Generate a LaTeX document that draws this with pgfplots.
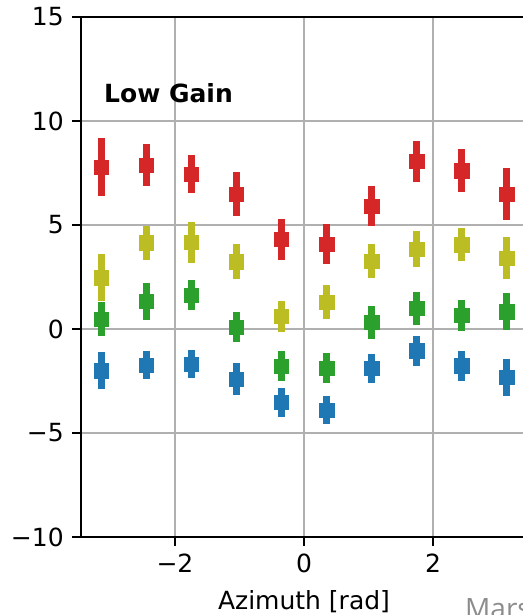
\documentclass[border=0pt]{standalone}
\usepackage{pgfplots}
\usepackage{pgfplotstable}
\pgfplotsset{compat=1.18}
\usepackage{fontspec}
\setmainfont{DejaVu Sans}
\newfontfamily\notefont{Open Sans}

\definecolor{tabred}{HTML}{D62728}
\definecolor{tabolive}{HTML}{BCBD22}
\definecolor{tabgreen}{HTML}{2CA02C}
\definecolor{tabblue}{HTML}{1F77B4}
\definecolor{gridgray}{HTML}{B0B0B0}

% azimuth [rad], offset, 1-sigma error
\pgfplotstableread{
x        y      e
-3.1416  7.79   1.40
-2.4435  7.88   1.00
-1.7453  7.45   0.92
-1.0472  6.49   1.04
-0.3491  4.31   0.99
 0.3491  4.09   0.95
 1.0472  5.91   0.98
 1.7453  8.06   1.00
 2.4435  7.61   1.03
 3.1416  6.49   1.25
}\redtab
\pgfplotstableread{
x        y      e
-3.1416  2.47   1.12
-2.4435  4.15   0.82
-1.7453  4.16   0.97
-1.0472  3.24   0.86
-0.3491  0.61   0.76
 0.3491  1.28   0.82
 1.0472  3.27   0.82
 1.7453  3.85   0.86
 2.4435  4.05   0.80
 3.1416  3.41   1.00
}\olivetab
\pgfplotstableread{
x        y      e
-3.1416  0.48   0.84
-2.4435  1.33   0.90
-1.7453  1.63   0.72
-1.0472  0.08   0.72
-0.3491 -1.78   0.74
 0.3491 -1.88   0.72
 1.0472  0.32   0.80
 1.7453  0.99   0.78
 2.4435  0.65   0.74
 3.1416  0.83   0.88
}\greentab
\pgfplotstableread{
x        y      e
-3.1416 -2.00   0.88
-2.4435 -1.73   0.66
-1.7453 -1.68   0.66
-1.0472 -2.40   0.75
-0.3491 -3.53   0.68
 0.3491 -3.89   0.68
 1.0472 -1.89   0.70
 1.7453 -1.04   0.72
 2.4435 -1.76   0.72
 3.1416 -2.33   0.91
}\bluetab

\pgfplotsset{
  gainpts/.style={
    only marks, color=#1, mark=square*,
    mark size=7.2bp,
    mark options={fill=#1, draw=none},
    error bars/.cd,
      y dir=both, y explicit,
      error mark=none,
      error bar style={color=#1, line width=7bp},
  },
}

\begin{document}
\fontsize{25bp}{30bp}\selectfont
\begin{tikzpicture}
\useasboundingbox (-81bp,-78bp) rectangle (442bp,537bp);
\clip (-81bp,-78bp) rectangle (442bp,537bp);
\begin{axis}[
  at={(0,0)}, anchor=south west,
  scale only axis, width=446bp, height=520bp,
  xmin=-3.456, xmax=3.456, ymin=-10, ymax=15,
  xtick={-2,0,2}, xticklabels={−2,0,2},
  ytick={-10,-5,0,5,10,15}, yticklabels={−10,−5,0,5,10,15},
  tick align=outside, tick pos=left,
  major tick length=8.75bp,
  every tick/.style={black, line width=2bp},
  axis line style={line width=2bp},
  grid=major, grid style={color=gridgray, line width=2bp},
  tick label style={font=\fontsize{25bp}{30bp}\selectfont},
  label style={font=\fontsize{25bp}{30bp}\selectfont},
  xlabel={Azimuth [rad]},
  clip=false,
]
\addplot[gainpts=tabblue]  table[x=x, y=y, y error=e] {\bluetab};
\addplot[gainpts=tabgreen] table[x=x, y=y, y error=e] {\greentab};
\addplot[gainpts=tabolive] table[x=x, y=y, y error=e] {\olivetab};
\addplot[gainpts=tabred]   table[x=x, y=y, y error=e] {\redtab};
\node[anchor=base west, inner sep=0pt, font=\bfseries\fontsize{25bp}{30bp}\selectfont]
  at (axis cs:-3.10,10.89) {Low Gain};
\end{axis}
\node[anchor=base west, text={rgb,255:red,140;green,140;blue,140},
      font=\notefont\fontsize{28bp}{32bp}\selectfont, inner sep=0pt]
  at (384bp,-81bp) {Mars};
\end{tikzpicture}
\end{document}
